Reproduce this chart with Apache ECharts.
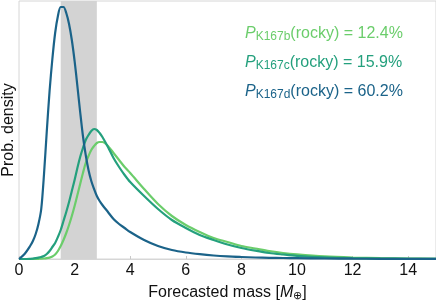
<!DOCTYPE html>
<html><head><meta charset="utf-8">
<script src="https://cdn.jsdelivr.net/npm/echarts@6/dist/echarts.min.js"></script>
<style>html,body{margin:0;padding:0;background:#fff}#c{width:436px;height:300px}</style>
</head><body><div id="c"></div>
<script>
// Forecasted mass grid (Earth masses)
const massGrid = [0,0.2,0.4,0.5,0.6,0.7,0.8,0.9,1.0,1.1,1.2,1.3,1.4,1.5,1.6,1.7,1.8,1.9,2.0,2.1,2.2,2.3,2.4,2.5,2.6,2.7,2.8,2.9,3.0,3.2,3.4,3.6,3.8,4.0,4.5,5.0,5.5,6.0,6.5,7.0,7.5,8.0,8.5,9.0,9.5,10,11,12,13,14,15];
// Probability density (arbitrary units) per planet
const densK167b = [0,0,0,0,0.1,0.2,0.3,0.5,0.8,1.4,2.5,4.5,8,13,19,26,34,43,53,64,75,86,96,103,109,113,116,117,117,113,106,99,92,86,70,55,43,34,27,21,17,13,10.5,8,6,4.6,2.6,1.5,0.8,0.4,0.2];
const densK167c = [0,0,0.2,0.4,0.8,1.3,2,3,5,8,12,16,22,29,38,47,57,68,79,91,102,111,119,124,128,130,129,126,122,112,101,92,84,77,63,50,39,31,24,19,14.5,11,8.3,6,4.5,3.2,1.6,0.8,0.4,0.2,0.1];
const densK167d = [0,5,13,18,25,35,50,85,128,168,200,226,243,252,252,246,235,219,198,173,147,123,104,89,78,70,63,58,54,47,40,35,31,27,19,13,9,6.5,4.8,3.5,2.6,2,1.5,1.2,1,0.8,0.5,0.3,0.2,0.15,0.1];
const planetNames = ['K167b','K167c','K167d'];
const rockyProb = ['12.4%','15.9%','60.2%'];
const rockyBand = [1.5, 2.8];
const xTicks = {min:0, max:15, interval:2};

const colors = ['#6bcd6b','#24a07d','#1b6389'];
const dens = [densK167b, densK167c, densK167d];
const pairs = d => massGrid.map((x,i)=>[x,d[i]]);
const FONT = '"Liberation Sans", Arial, sans-serif';

const chart = echarts.init(document.getElementById('c'));
const series = dens.map((d,i)=>({
  type:'line', data: pairs(d), smooth:0.3, symbol:'none',
  lineStyle:{color:colors[i], width:2.2}, z: 3+i,
  markArea: i===0 ? {silent:true, itemStyle:{color:'#d3d3d3'}, data:[[{xAxis:rockyBand[0]},{xAxis:rockyBand[1]}]]} : undefined
}));

const texts = planetNames.map((n,i)=>({
  type:'text', left:245, top:24+29*i, z:10,
  style:{
    text:'{p|P}{s|'+n+'}{t|(rocky) = '+rockyProb[i]+'}',
    fill:colors[i], font:'16px '+FONT,
    rich:{
      p:{fontSize:16, fontStyle:'italic', fontFamily:FONT, fill:colors[i], lineHeight:22},
      s:{fontSize:12, fontFamily:FONT, fill:colors[i], lineHeight:22, padding:[7,0,0,0]},
      t:{fontSize:16, fontFamily:FONT, fill:colors[i], lineHeight:22}
    }
  }
}));

chart.setOption({
  animation:false,
  grid:{left:19, right:0, top:1, bottom:41, show:true, borderColor:'#d6d6d6', borderWidth:1, containLabel:false, outerBoundsMode:'none'},
  xAxis:{type:'value', min:xTicks.min, max:xTicks.max, interval:xTicks.interval,
    axisLine:{show:true, lineStyle:{color:'#d6d6d6'}},
    axisTick:{show:true, inside:true, length:3, lineStyle:{color:'#c8c8c8'}},
    splitLine:{show:false},
    axisLabel:{fontSize:16, color:'#111', fontFamily:FONT, margin:4, showMaxLabel:false},
    name:'{a|Forecasted mass [}{m|M}{s|⊕}{a|]}', nameLocation:'middle', nameGap:17,
    nameTextStyle:{rich:{
      a:{fontSize:16, fontFamily:FONT, color:'#111', lineHeight:20},
      m:{fontSize:16, fontFamily:FONT, fontStyle:'italic', color:'#111', lineHeight:20},
      s:{fontSize:11, fontFamily:FONT, color:'#111', lineHeight:20, padding:[7,0,0,0]}
    }}
  },
  yAxis:{type:'value', min:0, max:258,
    axisLine:{show:false}, axisTick:{show:false}, axisLabel:{show:false}, splitLine:{show:false},
    name:'Prob. density', nameLocation:'middle', nameGap:2, nameRotate:90,
    nameTextStyle:{fontSize:16, fontFamily:FONT, color:'#111'}
  },
  graphic: texts,
  series: series
});
</script></body></html>
